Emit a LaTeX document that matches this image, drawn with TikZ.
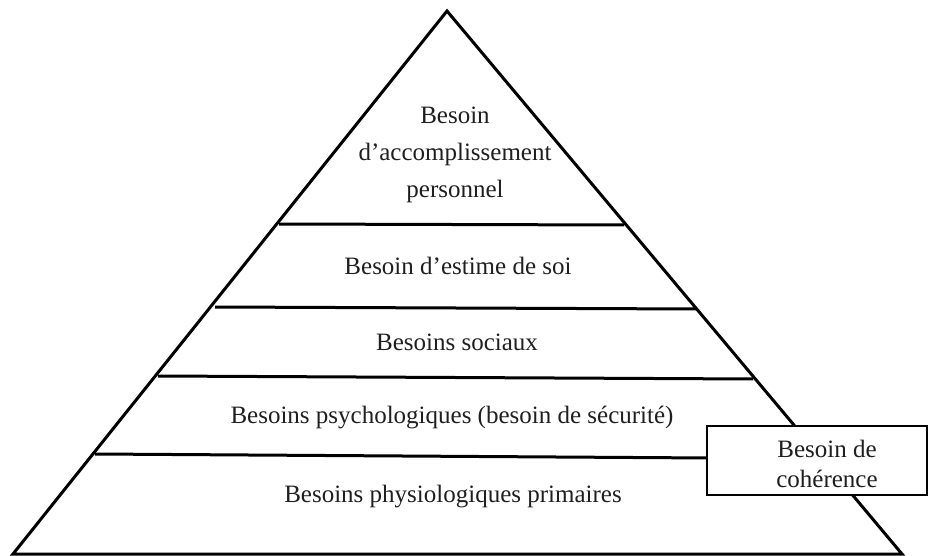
\documentclass[tikz,border=0pt]{standalone}
\usepackage{fontspec}
\setmainfont{Liberation Serif}
\usepackage{tikz}

\begin{document}
\begin{tikzpicture}[x=1pt,y=-1pt,
	layer/.style={font=\fontsize{25}{37}\selectfont, align=center, text=black!88},
	edge/.style={line width=3pt}]
	\useasboundingbox (0,0) rectangle (932,556);
	\coordinate (top) at (447,11);
	\coordinate (bl) at (13,554);
	\coordinate (br) at (902,554);
	% separations between the levels
	\coordinate (l1) at (279,224); \coordinate (r1) at (624,225);
	\coordinate (l2) at (215,307); \coordinate (r2) at (697,309);
	\coordinate (l3) at (158,376); \coordinate (r3) at (753,379);
	\coordinate (l4) at (95,454);  \coordinate (r4) at (710,458);
	\draw[edge, line join=miter] (top) -- (bl) -- (br) -- cycle;
	\draw[edge] (l1) -- (r1);
	\draw[edge] (l2) -- (r2);
	\draw[edge] (l3) -- (r3);
	\draw[edge] (l4) -- (r4);
	\node[layer] (acc) at (455,155) {Besoin\\d'accomplissement\\personnel};
	\node[layer] (est) at (458,266) {Besoin d'estime de soi};
	\node[layer] (soc) at (457,342) {Besoins sociaux};
	\node[layer] (psy) at (452,418) {Besoins psychologiques (besoin de sécurité)};
	\node[layer] (phy) at (453,497) {Besoins physiologiques primaires};
	\node[draw, fill=white, line width=2.2pt, minimum width=220pt, minimum height=69pt] (coh) at (817,460.5) {};
	\node[layer, font=\fontsize{25}{30}\selectfont] (cohtxt) at (827,464) {Besoin de\\cohérence};
\end{tikzpicture}
\end{document}
